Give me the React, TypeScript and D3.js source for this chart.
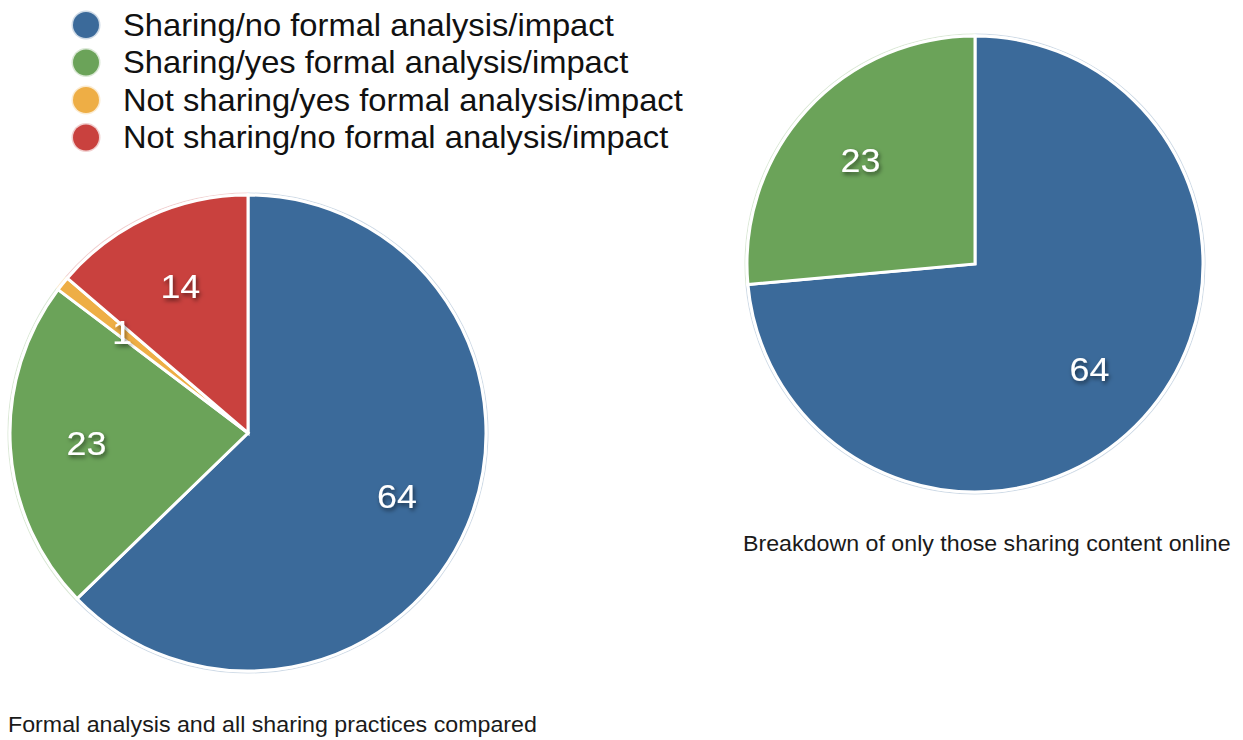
import React from "react";
import * as d3 from "d3";

// Categories and values
const categories = [
  "Sharing/no formal analysis/impact",
  "Sharing/yes formal analysis/impact",
  "Not sharing/yes formal analysis/impact",
  "Not sharing/no formal analysis/impact",
];
const colors = ["#3B6A9A", "#6BA359", "#EEAE45", "#C9413E"];
const allValues = [64, 23, 1, 14];
const sharingCategories = [categories[0], categories[1]];
const sharingValues = [64, 23];
const captionAll = "Formal analysis and all sharing practices compared";
const captionSharing = "Breakdown of only those sharing content online";

const FONT = "'Liberation Sans', Arial, Helvetica, sans-serif";
const STRETCH = 1.055; // slightly wider glyphs, closer to a Helvetica Neue look

type Datum = { name: string; value: number };

type PieProps = {
  cx: number;
  cy: number;
  r: number;
  names: string[];
  values: number[];
};

function Pie({ cx, cy, r, names, values }: PieProps) {
  const data: Datum[] = names.map((n, i) => ({ name: n, value: values[i] }));
  const pie = d3
    .pie<Datum>()
    .sort(null)
    .value((d) => d.value);
  const arcs = pie(data);
  const arc = d3.arc<d3.PieArcDatum<Datum>>().innerRadius(0).outerRadius(r);
  const ring = d3
    .arc<d3.PieArcDatum<Datum>>()
    .innerRadius(r + 1.5)
    .outerRadius(r + 2.5);
  const labelArc = d3
    .arc<d3.PieArcDatum<Datum>>()
    .innerRadius(r * 0.68)
    .outerRadius(r * 0.68);
  const color = d3.scaleOrdinal<string, string>().domain(categories).range(colors);
  return (
    <g transform={`translate(${cx},${cy})`}>
      {arcs.map((a, i) => (
        <path key={"ring" + i} d={ring(a) || ""} fill={color(a.data.name)} opacity={0.25} />
      ))}
      {arcs.map((a, i) => (
        <path
          key={"s" + i}
          d={arc(a) || ""}
          fill={color(a.data.name)}
          stroke="#ffffff"
          strokeWidth={3}
          strokeLinejoin="miter"
        />
      ))}
      {arcs.map((a, i) => {
        const [x, y] = labelArc.centroid(a);
        return (
          <text
            key={"t" + i}
            transform={`translate(${x},${y}) scale(${STRETCH},1)`}
            textAnchor="middle"
            dominantBaseline="central"
            fill="#ffffff"
            fontFamily={FONT}
            fontSize={34}
            filter="url(#labelShadow)"
          >
            {a.data.value}
          </text>
        );
      })}
    </g>
  );
}

export default function App() {
  return (
    <svg
      width={1243}
      height={740}
      style={{ position: "absolute", left: 0, top: 0, background: "#ffffff" }}
    >
      <defs>
        <filter id="labelShadow" x="-50%" y="-50%" width="200%" height="200%">
          <feDropShadow dx={1.5} dy={2.5} stdDeviation={2} floodColor="#000000" floodOpacity={0.55} />
        </filter>
      </defs>

      {/* Legend */}
      {categories.map((c, i) => (
        <g key={c} transform={`translate(0,${25 + i * 37.5})`}>
          <circle cx={86} cy={0} r={14.5} fill={colors[i]} opacity={0.25} />
          <circle cx={86} cy={0} r={13} fill={colors[i]} />
          <text
            transform={`translate(123,0) scale(${STRETCH},1)`}
            dominantBaseline="central"
            fontFamily={FONT}
            fontSize={31}
            fill="#111111"
          >
            {c}
          </text>
        </g>
      ))}

      <Pie cx={248} cy={433} r={238} names={categories} values={allValues} />
      <Pie cx={975} cy={264} r={228} names={sharingCategories} values={sharingValues} />

      <text
        transform={`translate(8,732) scale(${STRETCH},1)`}
        fontFamily={FONT}
        fontSize={22}
        fill="#1a1a1a"
      >
        {captionAll}
      </text>
      <text
        transform={`translate(743,551) scale(${STRETCH},1)`}
        fontFamily={FONT}
        fontSize={22}
        fill="#1a1a1a"
      >
        {captionSharing}
      </text>
    </svg>
  );
}
